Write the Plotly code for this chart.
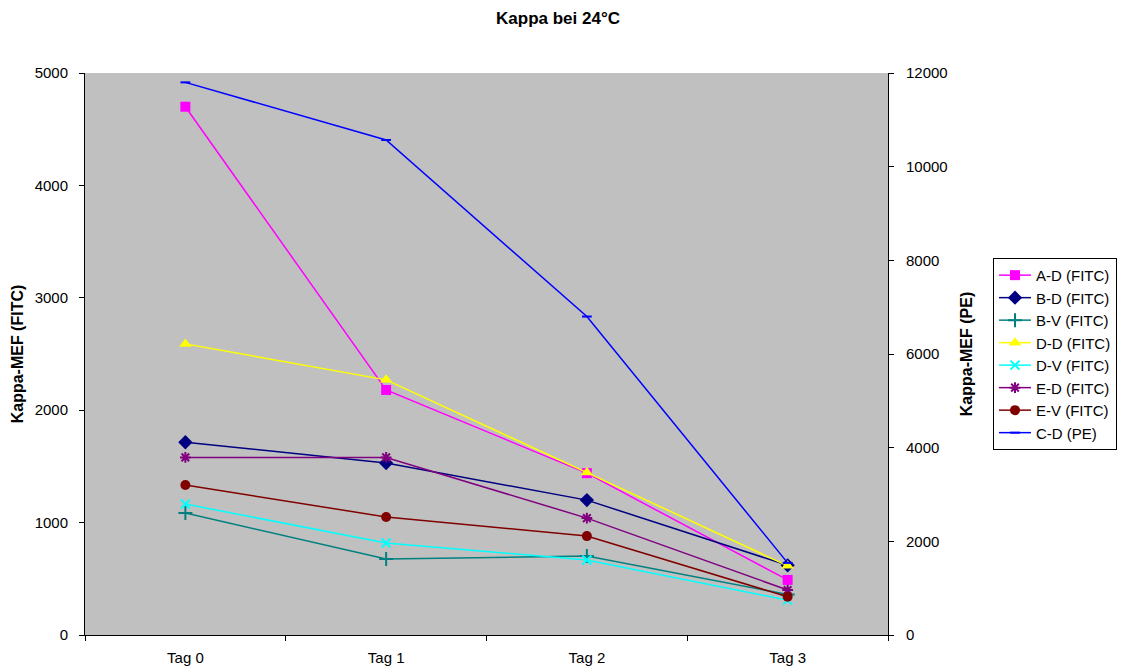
import plotly.graph_objects as go

categories = ["Tag 0", "Tag 1", "Tag 2", "Tag 3"]

a_d_fitc = [4700, 2180, 1440, 490]
b_d_fitc = [1715, 1530, 1200, 620]
b_v_fitc = [1085, 676, 703, 360]
d_d_fitc = [2590, 2270, 1445, 615]
d_v_fitc = [1165, 818, 667, 310]
e_d_fitc = [1580, 1580, 1040, 400]
e_v_fitc = [1334, 1050, 880, 340]
c_d_pe = [11800, 10570, 6800, 1540]

series = [
    ("A-D (FITC)", a_d_fitc, "#FF00FF", "square", 10, "y"),
    ("B-D (FITC)", b_d_fitc, "#000080", "diamond", 11, "y"),
    ("B-V (FITC)", b_v_fitc, "#008080", "cross-thin", 10, "y"),
    ("D-D (FITC)", d_d_fitc, "#FFFF00", "triangle-up", 11, "y"),
    ("D-V (FITC)", d_v_fitc, "#00FFFF", "x-thin", 9, "y"),
    ("E-D (FITC)", e_d_fitc, "#800080", "asterisk", 9, "y"),
    ("E-V (FITC)", e_v_fitc, "#800000", "circle", 10, "y"),
    ("C-D (PE)", c_d_pe, "#0000FF", "line-ew", 7, "y2"),
]

fam = "Arial, Liberation Sans, sans-serif"

# page body has an 8px margin; figure is sized to fit the 1127x672 window
W, H = 1119, 664

fig = go.Figure()
for name, vals, color, sym, size, ax in series:
    thin = sym in ("cross-thin", "x-thin", "asterisk", "line-ew")
    fig.add_trace(go.Scatter(
        x=categories, y=vals, name=name, mode="lines+markers", yaxis=ax,
        line=dict(color=color, width=1.5),
        marker=dict(symbol=sym, size=size, color=color,
                    line=dict(color=color, width=2 if thin else 0)),
    ))

fig.update_layout(
    width=W, height=H,
    margin=dict(l=77, r=239, t=65, b=37, autoexpand=False),
    paper_bgcolor="white",
    plot_bgcolor="#C0C0C0",
    font=dict(family=fam, size=15, color="black"),
    title=dict(text="<b>Kappa bei 24°C</b>", x=550 / W, xref="container", xanchor="center",
               y=1, yref="container", yanchor="top", pad=dict(t=4, b=0, l=0, r=0),
               font=dict(family=fam, size=17, color="black")),
    showlegend=True,
    legend=dict(x=(993 - 85) / 803, y=0.671, xanchor="left", yanchor="top",
                bordercolor="black", borderwidth=1, bgcolor="white",
                font=dict(family=fam, size=15),
                tracegroupgap=0, itemwidth=32),
    xaxis=dict(type="category", range=[-0.5, 3.5], showgrid=False, showline=True,
               linecolor="black", linewidth=1, ticks="outside", ticklen=5,
               tickcolor="black", tickson="boundaries", zeroline=False,
               automargin=False, ticklabelstandoff=9),
    yaxis=dict(range=[0, 5000], dtick=1000, showgrid=False, showline=True,
               linecolor="black", linewidth=1, ticks="outside", ticklen=5,
               tickcolor="black", zeroline=False, automargin=False,
               ticklabelstandoff=8,
               title=dict(text="<b>Kappa-MEF (FITC)</b>", standoff=7,
                          font=dict(family=fam, size=16))),
    yaxis2=dict(range=[0, 12000], dtick=2000, overlaying="y", side="right",
                showgrid=False, showline=True, linecolor="black", linewidth=1,
                ticks="outside", ticklen=5, tickcolor="black", zeroline=False,
                tickformat="d", automargin=False, ticklabelstandoff=9,
                title=dict(text="<b>Kappa-MEF (PE)</b>", standoff=14,
                           font=dict(family=fam, size=16))),
)

fig.write_html("out.html")
